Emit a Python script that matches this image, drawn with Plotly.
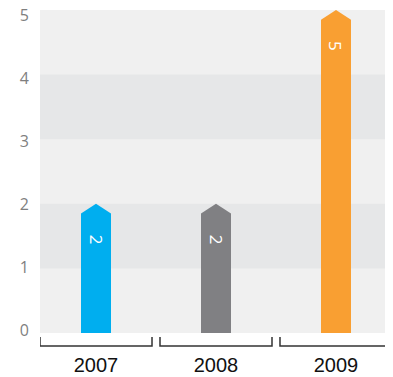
import plotly.graph_objects as go

categories = ["2007", "2008", "2009"]
values = [2, 2, 5]
bar_colors = ["#00aeef", "#808083", "#f99f32"]
y_ticks = [0, 1, 2, 3, 4, 5]
dark_bands = [(1, 2), (3, 4)]

BAR_HALF = 0.125      # half bar width in category units
TIP = 0.15            # arrow tip height in data units

fig = go.Figure()

for i, (cat, v, col) in enumerate(zip(categories, values, bar_colors)):
    xs = [i - BAR_HALF, i - BAR_HALF, i, i + BAR_HALF, i + BAR_HALF, i - BAR_HALF]
    ys = [0, v - TIP, v, v - TIP, 0, 0]
    fig.add_trace(go.Scatter(x=xs, y=ys, fill="toself", fillcolor=col,
                             mode="lines", line=dict(width=0, color=col),
                             hoverinfo="skip", showlegend=False, cliponaxis=False))
    fig.add_annotation(x=i, y=v, xref="x", yref="y", text=str(v), showarrow=False,
                       textangle=90, yshift=-36,
                       font=dict(family="Open Sans", size=17, color="white"))

# invisible trace so the label axis is drawn
fig.add_trace(go.Scatter(x=[0], y=[0], yaxis="y2", mode="markers",
                         marker=dict(opacity=0), hoverinfo="skip", showlegend=False))

for lo, hi in dark_bands:
    fig.add_shape(type="rect", xref="paper", yref="y", x0=0, x1=1, y0=lo, y1=hi,
                  fillcolor="#e6e7e8", line=dict(width=0), layer="below")

# bracket decorations under each category
for i in range(len(categories)):
    x0, x1 = i - 0.4667, i + 0.4667
    fig.add_shape(type="path", xref="x", yref="paper",
                  path=f"M {x0},-0.012 L {x0},-0.040 L {x1},-0.040 L {x1},-0.012",
                  line=dict(color="#333333", width=1.5))

# page has an 8px body margin, so the figure is sized/offset to compensate
fig.update_layout(
    width=385, height=369,
    margin=dict(l=32, r=1, t=2, b=44, autoexpand=False),
    plot_bgcolor="#f0f0f0", paper_bgcolor="white",
    showlegend=False,
    xaxis=dict(range=[-0.4667, 2.4667], tickmode="array",
               tickvals=list(range(len(categories))), ticktext=categories,
               showgrid=False, zeroline=False, showline=False, automargin=False,
               ticks="", ticklabelstandoff=18, ticklabeloverflow="allow",
               tickfont=dict(family="Liberation Sans", size=20, color="#111111")),
    yaxis=dict(range=[0, 5], showticklabels=False, showgrid=False, zeroline=False,
               showline=False, ticks="", automargin=False),
    # label axis: the source spaces its value labels slightly tighter than the bands
    yaxis2=dict(overlaying="y", side="left", range=[-0.0476, 5.079],
                tickvals=y_ticks, showgrid=False, zeroline=False, showline=False,
                ticks="", ticklabelstandoff=10, automargin=False,
                ticklabeloverflow="allow",
                tickfont=dict(family="Open Sans", size=16, color="#7f7f7f")),
)

fig.write_html("out.html", config={"displayModeBar": False})
